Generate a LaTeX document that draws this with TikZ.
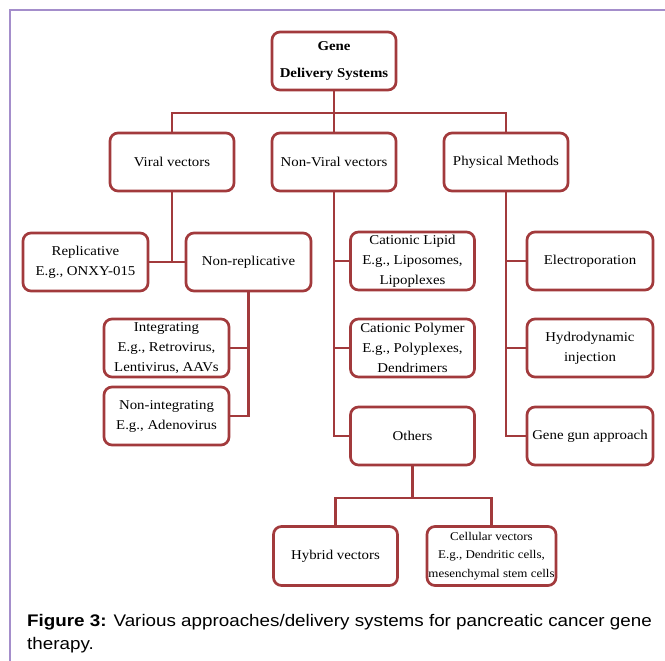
\documentclass[tikz,border=0pt]{standalone}
\usepackage{fontspec}
\setmainfont{Liberation Serif}[FakeStretch=1.1]
\newfontfamily\capfont[FakeStretch=1.12]{Liberation Sans}
\usetikzlibrary{positioning}
\definecolor{boxred}{HTML}{A23A3C}
\definecolor{framelilac}{HTML}{A48ECB}

\begin{document}
\begin{tikzpicture}[x=1pt, y=-1pt,
    b/.style={rectangle, draw=boxred, line width=2.7pt, rounded corners=8pt, fill=white, align=center, minimum width=124pt, minimum height=58pt, inner sep=0pt, font=\fontsize{13.5}{20}\selectfont},
    line/.style={draw=boxred, line width=2.7pt}]
    \useasboundingbox (0,0) rectangle (665,661);
    \draw[framelilac, line width=2pt] (9.5,661) -- (9.5,10.5) -- (665,10.5);
    % top and first level
    \node[b, font=\bfseries\fontsize{13.5}{27}\selectfont] (gds) at (334,61) {Gene\\Delivery Systems};
    \node[b] (viral) at (172,162) {Viral vectors};
    \node[b] (nonviral) at (334,162) {Non-Viral vectors};
    \node[b] (phys) at (506,162) {Physical Methods};
    % viral branch
    \node[b, minimum width=125pt] (rep) at (85.5,262) {Replicative\\E.g., ONXY-015};
    \node[b, minimum width=125pt] (nonrep) at (248.5,262) {Non-replicative};
    \node[b, minimum width=125pt] (integ) at (166.5,348) {Integrating\\E.g., Retrovirus,\\Lentivirus, AAVs};
    \node[b, minimum width=125pt] (nonint) at (166.5,416) {Non-integrating\\E.g., Adenovirus};
    % non-viral branch
    \node[b] (lipid) at (412.5,261) {Cationic Lipid\\E.g., Liposomes,\\Lipoplexes};
    \node[b] (poly) at (412.5,348) {Cationic Polymer\\E.g., Polyplexes,\\Dendrimers};
    \node[b] (others) at (412.5,436) {Others};
    \node[b, minimum height=59pt] (hybrid) at (335.5,556) {Hybrid vectors};
    \node[b, minimum width=129pt, minimum height=59pt, font=\fontsize{11.8}{18.5}\selectfont] (cell) at (491.5,556) {Cellular vectors\\E.g., Dendritic cells,\\mesenchymal stem cells};
    % physical branch
    \node[b, minimum width=126pt] (electro) at (590,261) {Electroporation};
    \node[b, minimum width=126pt] (hydro) at (590,348) {Hydrodynamic\\injection};
    \node[b, minimum width=126pt] (gun) at (590,436) {Gene gun approach};
    \coordinate (top) at (334,113);
    \coordinate (low) at (412.5,498);
    \draw[line] (gds) -- (top) -- (nonviral);
    \draw[line] (viral.north) |- (top) -| (phys.north);
    \draw[line] (viral.south) -- (viral.south |- rep.east);
    \draw[line] (rep.east) -- (nonrep.west);
    \draw[line] (nonrep.south) |- (nonint.east);
    \draw[line] (integ.east) -- (nonrep.south |- integ.east);
    \draw[line] (nonviral.south) |- (others.west);
    \draw[line] (lipid.west) -- (nonviral.south |- lipid.west);
    \draw[line] (poly.west) -- (nonviral.south |- poly.west);
    \draw[line] (phys.south) |- (gun.west);
    \draw[line] (electro.west) -- (phys.south |- electro.west);
    \draw[line] (hydro.west) -- (phys.south |- hydro.west);
    \draw[line] (others) -- (low);
    \draw[line] (hybrid.north) |- (low) -| (cell.north);
    % caption
    \node[anchor=north west, align=left, inner sep=0pt, font=\capfont\fontsize{16.8}{23}\selectfont] (cap) at (27,614.5) {\textbf{Figure 3:} Various approaches/delivery systems for pancreatic cancer gene\\therapy.};
\end{tikzpicture}
\end{document}
